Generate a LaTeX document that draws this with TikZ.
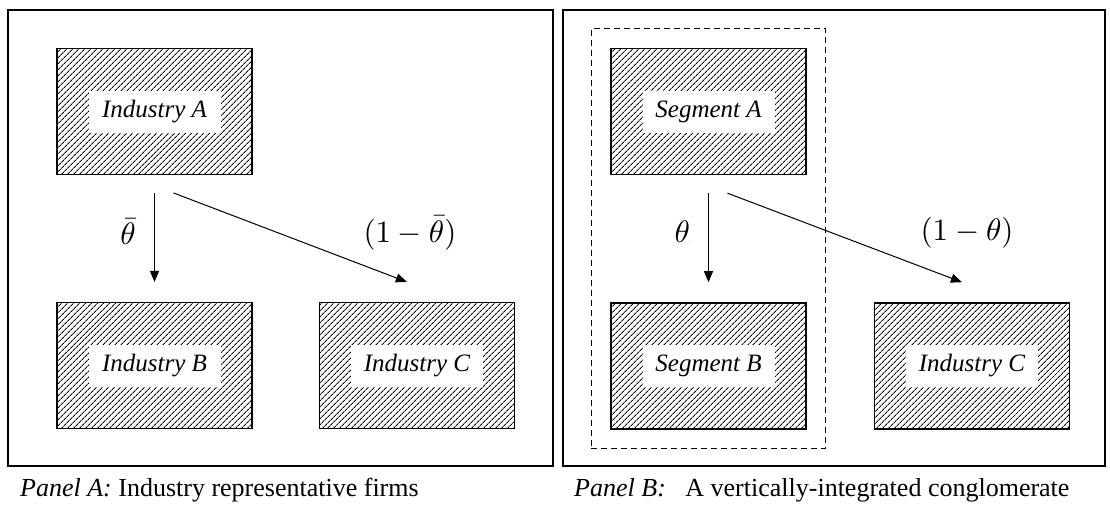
\documentclass[tikz,border=0pt]{standalone}
\usepackage{graphicx}
\usepackage{fontspec}
\setmainfont{Liberation Serif}
\usetikzlibrary{positioning, fit, arrows.meta, patterns.meta}
\newcommand{\bigmath}[1]{\scalebox{3.1}{#1}}
\tikzset{firm/.style={
        draw,
        rectangle,
        line width=1.4pt,
        minimum width=195pt,
        minimum height=126pt,
        pattern={Lines[angle=45,distance=4pt,line width=0.9pt]}
}}
\tikzset{tag/.style={
        fill=white,
        rectangle,
        inner sep=0pt,
        minimum width=132pt,
        minimum height=42pt,
        font=\fontsize{25}{30}\selectfont\itshape
}}
\tikzset{flowedge/.style={draw,line width=1pt,-{Triangle[length=11pt,width=9pt]}}}
\tikzset{share/.style={inner sep=0pt}}
\tikzset{panel/.style={draw,line width=1.2pt}}
\tikzset{caption/.style={anchor=west,inner sep=0pt,font=\fontsize{26}{30}\selectfont}}

\begin{document}
\begin{tikzpicture}[x=1pt,y=-1pt,node distance=127pt]
\useasboundingbox (0,0) rectangle (1110,506);

% panel A
\draw[panel] (8,10) rectangle (553,466);
\node[firm] (indA) at (154.5,111.5) {};
\node[firm, below=of indA] (indB) {};
\node[firm, right=66pt of indB] (indC) {};
\node[tag] (tagA) at (indA) {Industry A};
\node[tag] (tagB) at (indB) {Industry B};
\node[tag] (tagC) at (indC) {Industry C};
\coordinate (sa1) at ([yshift=-18pt]indA.south);
\coordinate (sb1) at ([yshift=20pt]indB.north);
\coordinate (sa2) at ([xshift=19pt,yshift=-18pt]indA.south);
\coordinate (sc2) at ([xshift=-10pt,yshift=20pt]indC.north);
\draw[flowedge] (sa1) -- (sb1);
\draw[flowedge] (sa2) -- (sc2);
\node[share] (thA) at (128,232) {\bigmath{$\bar\theta$}};
\node[share] (thAc) at (410,233) {\bigmath{$(1-\bar\theta)$}};
\node[caption] (capA) at (20,490) {{\itshape Panel A:}\ Industry representative firms};

% panel B
\draw[panel] (563,10) rectangle (1105,466);
\node[firm] (segA) at (708.5,111.5) {};
\node[firm, below=of segA] (segB) {};
\node[firm, right=67pt of segB] (indC2) {};
\node[tag] (tagSA) at (segA) {Segment A};
\node[tag] (tagSB) at (segB) {Segment B};
\node[tag] (tagC2) at (indC2) {Industry C};
\node[draw, dash pattern=on 6pt off 4pt, line width=1pt, inner sep=19pt, fit=(segA)(segB)] (conglo) {};
\coordinate (sa3) at ([yshift=-18pt]segA.south);
\coordinate (sb3) at ([yshift=20pt]segB.north);
\coordinate (sa4) at ([xshift=19pt,yshift=-18pt]segA.south);
\coordinate (sc4) at ([xshift=-10pt,yshift=20pt]indC2.north);
\draw[flowedge] (sa3) -- (sb3);
\draw[flowedge] (sa4) -- (sc4);
\node[share] (thB) at (683,232) {\bigmath{$\theta$}{\tiny.}};
\node[share] (thBc) at (967,233) {\bigmath{$(1-\theta)$}};
\node[caption] (capB) at (574,490) {{\itshape Panel B:}\ \ \ A vertically-integrated conglomerate};
\end{tikzpicture}
\end{document}
